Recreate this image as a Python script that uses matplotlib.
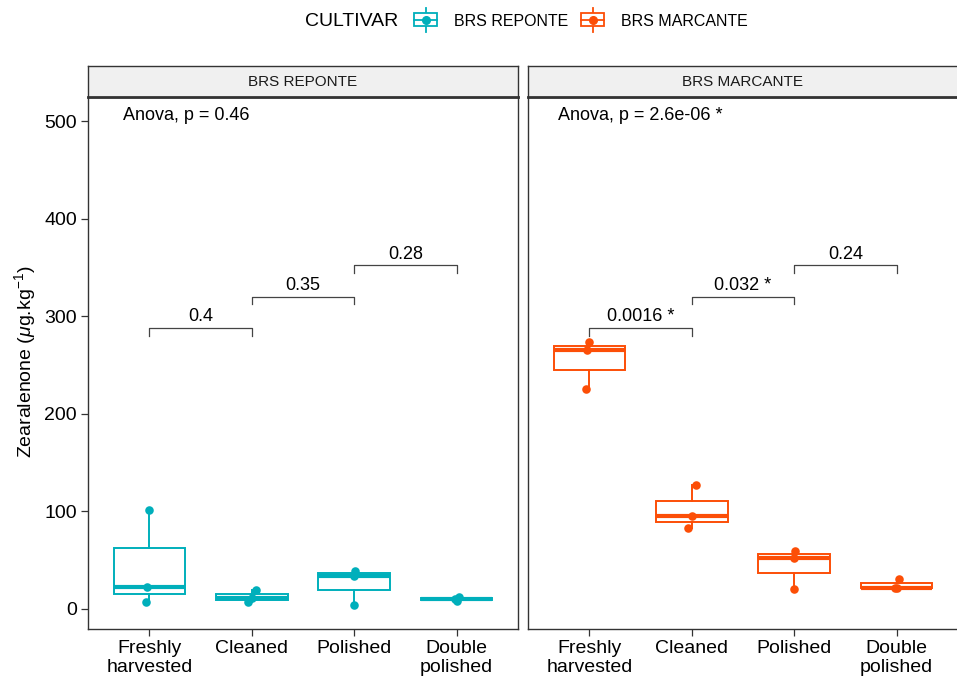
import matplotlib
matplotlib.use('Agg')
import matplotlib.pyplot as plt
from matplotlib.patches import Rectangle
from matplotlib.lines import Line2D
from matplotlib.legend_handler import HandlerBase

plt.rcParams['font.family'] = ['Liberation Sans', 'DejaVu Sans']
plt.rcParams['mathtext.fontset'] = 'custom'
plt.rcParams['mathtext.rm'] = 'Liberation Sans'
plt.rcParams['mathtext.it'] = 'Liberation Sans:italic'

categories = ['Freshly\nharvested', 'Cleaned', 'Polished', 'Double\npolished']
cultivars = ['BRS REPONTE', 'BRS MARCANTE']
colors = ['#00AFBB', '#FC4E07']

reponte = [[7, 23, 101], [7, 11.5, 19], [4, 34, 39], [8.5, 10, 12]]
marcante = [[225, 265, 274], [83, 95, 127], [20.5, 52.5, 59.5], [21, 22, 31]]
values = [reponte, marcante]

anova_labels = ['Anova, p = 0.46', 'Anova, p = 2.6e-06 *']
pair_labels = [['0.4', '0.35', '0.28'], ['0.0016 *', '0.032 *', '0.24']]
pair_heights = [288, 320, 352]

# small horizontal jitter for the dots (category units)
jitter = [[-0.03, -0.02, 0.0], [-0.04, 0.0, 0.04], [0.0, 0.0, 0.01], [0.0, -0.02, 0.02]]

W, H = 957, 676
fig = plt.figure(figsize=(W / 100, H / 100), dpi=100)

panels = [(88, 430), (528, 430)]
top, bottom = 97, 629
anova_x = [0.74, 0.69]

for k in range(2):
  x0, w = panels[k]
  ax = fig.add_axes([x0 / W, 1 - bottom / H, w / W, (bottom - top) / H])
  c = colors[k]
  pos = list(range(1, len(categories) + 1))
  ax.boxplot(values[k], positions=pos, widths=0.7, whis=(0, 100),
             showfliers=False, patch_artist=True,
             boxprops=dict(facecolor='white', edgecolor=c, linewidth=1.4),
             whiskerprops=dict(color=c, linewidth=1.4),
             capprops=dict(linewidth=0),
             medianprops=dict(color=c, linewidth=3.0))
  for i, vals in enumerate(values[k]):
    xs = [pos[i] + j for j in jitter[i]]
    ax.scatter(xs, vals, s=38, color=c, zorder=3, linewidths=0)

  # pairwise brackets
  for i in range(3):
    h = pair_heights[i]
    ax.plot([pos[i], pos[i], pos[i + 1], pos[i + 1]], [h - 8, h, h, h - 8],
            color='#444444', lw=0.9)
    ax.text((pos[i] + pos[i + 1]) / 2, h + 3, pair_labels[k][i],
            ha='center', va='bottom', fontsize=13)

  ax.text(anova_x[k], 506, anova_labels[k], ha='left', va='center', fontsize=13)

  ax.set_xlim(0.4, 4.6)
  ax.set_ylim(-20.5, 524.6)
  ax.set_xticks(pos)
  ax.set_xticklabels(categories, fontsize=14, linespacing=1.15)
  ax.set_yticks([0, 100, 200, 300, 400, 500])
  if k == 0:
    ax.set_yticklabels(['0', '100', '200', '300', '400', '500'], fontsize=14)
  else:
    ax.set_yticklabels([])
  ax.tick_params(axis='both', direction='out', length=5, width=0.9,
                 colors='#333333', labelcolor='black', pad=3)
  if k == 1:
    ax.tick_params(axis='y', length=0)
  for s in ax.spines.values():
    s.set_linewidth(1.0)
    s.set_color('#333333')

  # strip header
  sax = fig.add_axes([x0 / W, 1 - top / H, w / W, 31 / H])
  sax.set_facecolor('#F0F0F0')
  sax.set_xticks([])
  sax.set_yticks([])
  for s in sax.spines.values():
    s.set_linewidth(1.0)
    s.set_color('#333333')
  sax.spines['bottom'].set_linewidth(2.0)
  sax.text(0.5, 0.5, cultivars[k], ha='center', va='center', fontsize=11,
           transform=sax.transAxes, color='#1a1a1a')

fig.text(25 / W, 1 - 362 / H, r'Zearalenone ($\mu$g.kg$^{\mathregular{-1}}$)',
         rotation=90, ha='center', va='center', fontsize=14)


class BoxKey(HandlerBase):
  def create_artists(self, legend, orig_handle, xdescent, ydescent, width, height,
                     fontsize, trans):
    c = orig_handle.get_color()
    cx = width / 2 - xdescent
    cy = height / 2 - ydescent
    bh = height * 1.15
    r = Rectangle((-xdescent, cy - bh / 2), width, bh, facecolor='white',
                  edgecolor=c, lw=1.3, transform=trans)
    v = Line2D([cx, cx], [cy - height * 1.1, cy + height * 1.1], color=c, lw=1.3,
               transform=trans)
    m = Line2D([-xdescent, width - xdescent], [cy, cy], color=c, lw=1.3,
               transform=trans)
    d = Line2D([cx], [cy], marker='o', markersize=5.5, color=c, lw=0,
               transform=trans)
    return [v, r, m, d]


handles = [Line2D([], [], color=c) for c in colors]
fig.text(305 / W, 1 - 21 / H, 'CULTIVAR', ha='left', va='center', fontsize=14)
leg = fig.legend(handles, cultivars, loc='center left',
                 bbox_to_anchor=(403 / W, 1 - 21 / H), ncol=2, frameon=False,
                 handler_map={Line2D: BoxKey()}, fontsize=11.5,
                 handlelength=1.45, handletextpad=1.05, columnspacing=0.8,
                 borderpad=0.2)

fig.savefig('out.png', dpi=100)
